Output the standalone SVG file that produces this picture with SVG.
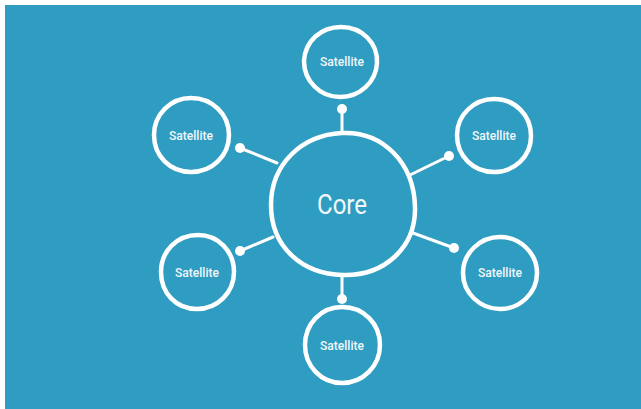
<svg xmlns="http://www.w3.org/2000/svg" width="641" height="409" viewBox="0 0 641 409">
<style>
.ring{fill:none;stroke:#fff;stroke-width:4.5;stroke-linecap:round;stroke-linejoin:round}
.con{stroke:#fff;stroke-width:3;stroke-linecap:round}
.dot{fill:#fff}
.sat{font-family:Roboto,"Liberation Sans",sans-serif;font-size:13px;font-weight:500;fill:#f2f7fa;text-anchor:middle}
.core{font-family:Roboto,"Liberation Sans",sans-serif;font-size:27px;fill:#f2f7fa;text-anchor:middle}
</style>
<rect x="0" y="0" width="641" height="409" fill="#fff"/>
<rect x="5" y="5" width="636" height="404" fill="#2f9cc2"/>
<g id="connectors">
<line class="con" x1="342" y1="109" x2="342" y2="133"/><circle class="dot" cx="342" cy="109" r="5"/>
<line class="con" x1="240" y1="148" x2="277" y2="163"/><circle class="dot" cx="240" cy="148" r="5"/>
<line class="con" x1="449" y1="156" x2="410" y2="175"/><circle class="dot" cx="449" cy="156" r="5"/>
<line class="con" x1="240" y1="251" x2="273" y2="237"/><circle class="dot" cx="240" cy="251" r="5"/>
<line class="con" x1="454" y1="248" x2="413" y2="233"/><circle class="dot" cx="454" cy="248" r="5"/>
<line class="con" x1="342" y1="299" x2="342" y2="275"/><circle class="dot" cx="342" cy="299" r="5"/>
</g>
<g id="core">
<path class="ring" d="M342 133 C383 131 414 163 415 207 C416 248 384 276 343 275 C302 274 271 247 271 205 C271 165 301 135 342 133 Z"/>
<text class="core" x="342" y="214" textLength="50" lengthAdjust="spacingAndGlyphs">Core</text>
</g>
<g id="sat-top">
<path class="ring" d="M341 27 C362 27 378 43 377 63 C376 82 360 97 340 97 C320 97 304 81 304 61 C305 41 321 27 341 27 Z"/>
<text class="sat" x="342" y="66" textLength="44" lengthAdjust="spacingAndGlyphs">Satellite</text>
</g>
<g id="sat-ul">
<path class="ring" d="M191 98 C212 98 229 114 229 135 C229 156 212 172 191 172 C170 172 154 156 154 135 C154 114 171 98 191 98 Z"/>
<text class="sat" x="191" y="140" textLength="44" lengthAdjust="spacingAndGlyphs">Satellite</text>
</g>
<g id="sat-ur">
<path class="ring" d="M494 99 C515 99 531 115 531 136 C531 157 514 172 494 172 C473 172 457 156 457 135 C457 115 474 99 494 99 Z"/>
<text class="sat" x="494" y="140" textLength="44" lengthAdjust="spacingAndGlyphs">Satellite</text>
</g>
<g id="sat-ll">
<path class="ring" d="M198 235 C218 235 234 251 234 272 C234 293 217 309 197 309 C176 309 161 293 161 272 C161 251 177 235 198 235 Z"/>
<text class="sat" x="197" y="277" textLength="44" lengthAdjust="spacingAndGlyphs">Satellite</text>
</g>
<g id="sat-lr">
<path class="ring" d="M500 237 C520 237 537 253 537 273 C537 293 520 309 500 309 C480 309 463 293 463 273 C463 253 480 237 500 237 Z"/>
<text class="sat" x="500" y="277" textLength="44" lengthAdjust="spacingAndGlyphs">Satellite</text>
</g>
<g id="sat-bottom">
<path class="ring" d="M342 307 C364 307 380 324 380 345 C380 366 363 383 342 383 C321 383 305 366 305 345 C305 324 321 307 342 307 Z"/>
<text class="sat" x="342" y="350" textLength="44" lengthAdjust="spacingAndGlyphs">Satellite</text>
</g>
</svg>
